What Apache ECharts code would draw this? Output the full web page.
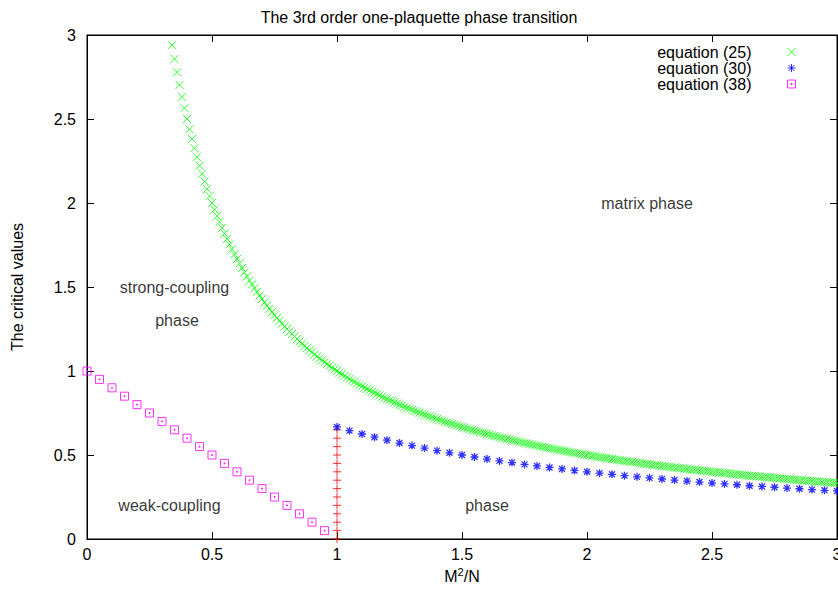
<!DOCTYPE html>
<html><head><meta charset="utf-8">
<script src="https://cdn.jsdelivr.net/npm/echarts@6/dist/echarts.min.js"></script>
<style>html,body{margin:0;padding:0;background:#fff}#c{width:838px;height:593px}</style>
</head><body><div id="c"></div>
<script>
// ---- data ----
const eq25X = [
0.34,0.35,0.36,0.37,0.38,0.39,
0.40,0.41,0.42,0.43,0.44,0.45,0.46,0.47,0.48,0.49,
0.50,0.51,0.52,0.53,0.54,0.55,0.56,0.57,0.58,0.59,
0.60,0.61,0.62,0.63,0.64,0.65,0.66,0.67,0.68,0.69,
0.70,0.71,0.72,0.73,0.74,0.75,0.76,0.77,0.78,0.79,
0.80,0.81,0.82,0.83,0.84,0.85,0.86,0.87,0.88,0.89,
0.90,0.91,0.92,0.93,0.94,0.95,0.96,0.97,0.98,0.99,
1.00,1.01,1.02,1.03,1.04,1.05,1.06,1.07,1.08,1.09,
1.10,1.11,1.12,1.13,1.14,1.15,1.16,1.17,1.18,1.19,
1.20,1.21,1.22,1.23,1.24,1.25,1.26,1.27,1.28,1.29,
1.30,1.31,1.32,1.33,1.34,1.35,1.36,1.37,1.38,1.39,
1.40,1.41,1.42,1.43,1.44,1.45,1.46,1.47,1.48,1.49,
1.50,1.51,1.52,1.53,1.54,1.55,1.56,1.57,1.58,1.59,
1.60,1.61,1.62,1.63,1.64,1.65,1.66,1.67,1.68,1.69,
1.70,1.71,1.72,1.73,1.74,1.75,1.76,1.77,1.78,1.79,
1.80,1.81,1.82,1.83,1.84,1.85,1.86,1.87,1.88,1.89,
1.90,1.91,1.92,1.93,1.94,1.95,1.96,1.97,1.98,1.99,
2.00,2.01,2.02,2.03,2.04,2.05,2.06,2.07,2.08,2.09,
2.10,2.11,2.12,2.13,2.14,2.15,2.16,2.17,2.18,2.19,
2.20,2.21,2.22,2.23,2.24,2.25,2.26,2.27,2.28,2.29,
2.30,2.31,2.32,2.33,2.34,2.35,2.36,2.37,2.38,2.39,
2.40,2.41,2.42,2.43,2.44,2.45,2.46,2.47,2.48,2.49,
2.50,2.51,2.52,2.53,2.54,2.55,2.56,2.57,2.58,2.59,
2.60,2.61,2.62,2.63,2.64,2.65,2.66,2.67,2.68,2.69,
2.70,2.71,2.72,2.73,2.74,2.75,2.76,2.77,2.78,2.79,
2.80,2.81,2.82,2.83,2.84,2.85,2.86,2.87,2.88,2.89,
2.90,2.91,2.92,2.93,2.94,2.95,2.96,2.97,2.98,2.99,
3.00];
const eq25Y = [
2.941,2.857,2.778,2.703,2.632,2.564,
2.500,2.439,2.381,2.326,2.273,2.222,2.174,2.128,2.083,2.041,
2.000,1.961,1.923,1.887,1.852,1.818,1.786,1.754,1.724,1.695,
1.667,1.639,1.613,1.587,1.563,1.538,1.515,1.493,1.471,1.449,
1.429,1.408,1.389,1.370,1.351,1.333,1.316,1.299,1.282,1.266,
1.250,1.235,1.220,1.205,1.190,1.176,1.163,1.149,1.136,1.124,
1.111,1.099,1.087,1.075,1.064,1.053,1.042,1.031,1.020,1.010,
1.000,0.990,0.980,0.971,0.962,0.952,0.943,0.935,0.926,0.917,
0.909,0.901,0.893,0.885,0.877,0.870,0.862,0.855,0.847,0.840,
0.833,0.826,0.820,0.813,0.806,0.800,0.794,0.787,0.781,0.775,
0.769,0.763,0.758,0.752,0.746,0.741,0.735,0.730,0.725,0.719,
0.714,0.709,0.704,0.699,0.694,0.690,0.685,0.680,0.676,0.671,
0.667,0.662,0.658,0.654,0.649,0.645,0.641,0.637,0.633,0.629,
0.625,0.621,0.617,0.613,0.610,0.606,0.602,0.599,0.595,0.592,
0.588,0.585,0.581,0.578,0.575,0.571,0.568,0.565,0.562,0.559,
0.556,0.552,0.549,0.546,0.543,0.541,0.538,0.535,0.532,0.529,
0.526,0.524,0.521,0.518,0.515,0.513,0.510,0.508,0.505,0.503,
0.500,0.498,0.495,0.493,0.490,0.488,0.485,0.483,0.481,0.478,
0.476,0.474,0.472,0.469,0.467,0.465,0.463,0.461,0.459,0.457,
0.455,0.452,0.450,0.448,0.446,0.444,0.442,0.441,0.439,0.437,
0.435,0.433,0.431,0.429,0.427,0.426,0.424,0.422,0.420,0.418,
0.417,0.415,0.413,0.412,0.410,0.408,0.407,0.405,0.403,0.402,
0.400,0.398,0.397,0.395,0.394,0.392,0.391,0.389,0.388,0.386,
0.385,0.383,0.382,0.380,0.379,0.377,0.376,0.375,0.373,0.372,
0.370,0.369,0.368,0.366,0.365,0.364,0.362,0.361,0.360,0.358,
0.357,0.356,0.355,0.353,0.352,0.351,0.350,0.348,0.347,0.346,
0.345,0.344,0.342,0.341,0.340,0.339,0.338,0.337,0.336,0.334,
0.333];

const eq30X = [1.00,1.05,1.10,1.15,1.20,1.25,1.30,1.35,1.40,1.45,
1.50,1.55,1.60,1.65,1.70,1.75,1.80,1.85,1.90,1.95,
2.00,2.05,2.10,2.15,2.20,2.25,2.30,2.35,2.40,2.45,
2.50,2.55,2.60,2.65,2.70,2.75,2.80,2.85,2.90,2.95,3.00];
const eq30Y = [0.667,0.645,0.625,0.606,0.588,0.571,0.556,0.541,0.526,0.513,
0.500,0.488,0.476,0.465,0.455,0.444,0.435,0.426,0.417,0.408,
0.400,0.392,0.385,0.377,0.370,0.364,0.357,0.351,0.345,0.339,
0.333,0.328,0.323,0.317,0.313,0.308,0.303,0.299,0.294,0.290,0.286];

const eq38X = [0.00,0.05,0.10,0.15,0.20,0.25,0.30,0.35,0.40,0.45,
0.50,0.55,0.60,0.65,0.70,0.75,0.80,0.85,0.90,0.95];
const eq38Y = [1.00,0.95,0.90,0.85,0.80,0.75,0.70,0.65,0.60,0.55,
0.50,0.45,0.40,0.35,0.30,0.25,0.20,0.15,0.10,0.05];

const boundaryX = [1,1,1,1,1,1,1,1,1,1,1,1,1,1];
const boundaryY = [0.00,0.05,0.10,0.15,0.20,0.25,0.30,0.35,0.40,0.45,0.50,0.55,0.60,0.65];

const seriesNames = ['equation (25)','equation (30)','equation (38)'];
const annotationTexts = ['strong-coupling','phase','matrix phase','weak-coupling','phase'];
const annotationX = [0.35,0.36,2.24,0.33,1.60];
const annotationY = [1.50,1.30,2.00,0.20,0.20];

const titleText = 'The 3rd order one-plaquette phase transition';
const yName = 'The critical values';

// ---- chart ----
const FONT = '"Liberation Sans", Arial, Helvetica, sans-serif';
const FS = 16;
const zip = (xs, ys) => xs.map((x, i) => [x, ys[i]]);
const SYM_X = 'path://M0,0L8,8M8,0L0,8';
const SYM_STAR = 'path://M0,4L8,4M4,0L4,8M1,1L7,7M7,1L1,7';
const SYM_SQ = 'path://M0,0L8,0L8,8L0,8ZM3.5,3.5L4.5,3.5L4.5,4.5L3.5,4.5Z';
const SYM_PLUS = 'path://M4,0L4,8M0,4L8,4';

function axisBase(extra) {
  return Object.assign({
    type: 'value', min: 0, max: 3, interval: 0.5,
    axisLine: {show: true, onZero: false, lineStyle: {color: '#000', width: 1}},
    axisTick: {show: true, inside: true, length: 7, lineStyle: {color: '#000', width: 1}},
    splitLine: {show: false},
    axisLabel: {color: '#000', fontFamily: FONT, fontSize: FS}
  }, extra);
}

function markerSeries(name, data, symbol, color, bw) {
  return {
    type: 'scatter', name: name, data: data,
    symbol: symbol, symbolSize: 8,
    itemStyle: {color: 'rgba(0,0,0,0)', borderColor: color, borderWidth: bw || 1},
    emphasis: {disabled: true}, silent: true, clip: false
  };
}

const chart = echarts.init(document.getElementById('c'), null, {renderer: 'svg'});
chart.setOption({
  animation: false,
  backgroundColor: '#fff',
  title: {
    text: titleText, left: 'center', top: 4,
    textStyle: {fontFamily: FONT, fontSize: FS, fontWeight: 'normal', color: '#000'}
  },
  grid: {left: 87, right: 1, top: 35, bottom: 54, show: true, borderColor: '#000', borderWidth: 1,
    containLabel: false, outerBoundsMode: 'none'},
  legend: {
    data: seriesNames, orient: 'vertical', right: 42, top: 44, padding: 0, itemGap: 0,
    align: 'right', itemWidth: 8, itemHeight: 8, selectedMode: false,
    itemStyle: {borderWidth: 1},
    textStyle: {fontFamily: FONT, fontSize: FS, color: '#000', lineHeight: 16, padding: [0, 31, 0, 0]}
  },
  xAxis: [
    axisBase({
      position: 'bottom',
      axisLabel: {color: '#000', fontFamily: FONT, fontSize: FS, margin: 7},
      name: '{m|M}{s|2}{m|/N}', nameLocation: 'middle', nameGap: 26,
      nameTextStyle: {color: '#000', fontFamily: FONT, fontSize: FS,
        rich: {m: {fontFamily: FONT, fontSize: FS, color: '#000', lineHeight: 20},
               s: {fontFamily: FONT, fontSize: 11, color: '#000', verticalAlign: 'top', lineHeight: 20}}}
    }),
    axisBase({position: 'top', axisLabel: {show: false}})
  ],
  yAxis: [
    axisBase({
      position: 'left',
      axisLabel: {color: '#000', fontFamily: FONT, fontSize: FS, margin: 11},
      name: yName, nameLocation: 'middle', nameGap: 62,
      nameTextStyle: {color: '#000', fontFamily: FONT, fontSize: FS}
    }),
    axisBase({position: 'right', axisLabel: {show: false}})
  ],
  series: [
    markerSeries('boundary', zip(boundaryX, boundaryY), SYM_PLUS, '#ff0000'),
    markerSeries(seriesNames[0], zip(eq25X, eq25Y), SYM_X, '#00ff00'),
    markerSeries(seriesNames[1], zip(eq30X, eq30Y), SYM_STAR, '#0000ff', 1.3),
    markerSeries(seriesNames[2], zip(eq38X, eq38Y), SYM_SQ, '#ff00ff'),
    {
      type: 'scatter', name: 'annotations',
      data: annotationX.map((x, i) => [x, annotationY[i], annotationTexts[i]]),
      symbolSize: 1, itemStyle: {color: 'rgba(0,0,0,0)'}, silent: true,
      emphasis: {disabled: true},
      label: {show: true, position: 'inside', formatter: p => p.value[2],
        color: '#000', fontFamily: FONT, fontSize: FS}
    }
  ]
});
</script>
</body></html>
